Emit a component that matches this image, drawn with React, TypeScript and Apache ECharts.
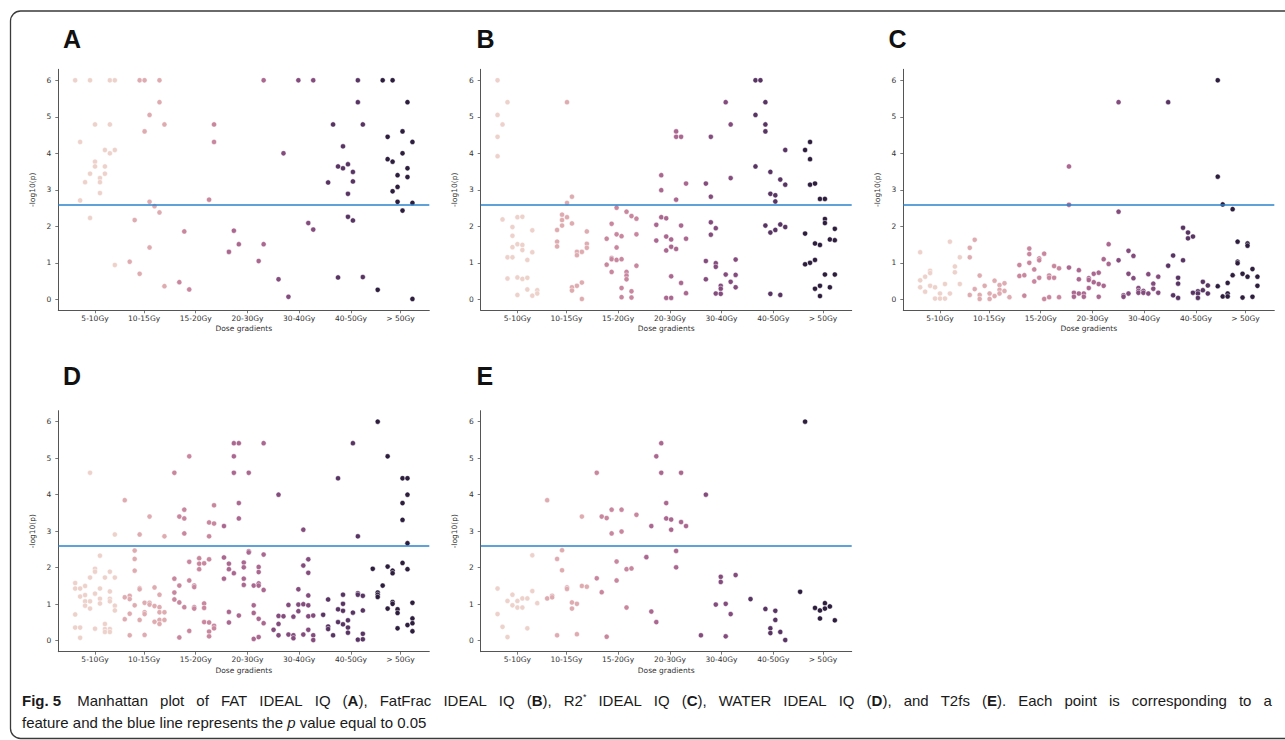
import React, { useEffect, useRef } from 'react';
import * as echarts from 'echarts';

// ---------- data ----------
const GROUPS = ['5-10Gy', '10-15Gy', '15-20Gy', '20-30Gy', '30-40Gy', '40-50Gy', '> 50Gy'];
const GROUP_TICKS = [0, 9.9, 20.3, 30.75, 41.15, 51.6, 61.6];
const Y_TICKS = [0, 1, 2, 3, 4, 5, 6];
const THRESHOLD = 2.6;
const GROUP_COLORS = ['#edd1cb', '#deabb0', '#c8879e', '#aa678f', '#834c7d', '#583463', '#2d1e3e'];
const PANEL_LETTERS = ['A', 'B', 'C', 'D', 'E'];

// [feature index, -log10(p)] per dose group
const fatIdealIQ = [
  [[-4, 6], [-1, 6], [3, 6], [4, 6], [-3, 4.31], [0, 4.79], [3, 4.79], [2, 4.09], [4, 4.09], [3, 4.0], [0, 3.77], [0, 3.64], [2, 3.64], [-1, 3.44], [2, 3.44], [1, 3.32], [1, 3.21], [-2, 3.21], [1, 2.91], [-3, 2.71], [-1, 2.23], [4, 0.94]],
  [[9, 6], [10, 6], [13, 6], [13, 5.4], [11, 5.05], [14, 4.79], [10, 4.6], [11, 2.67], [12, 2.55], [13, 2.38], [8, 2.17], [11, 1.42], [7, 1.03], [9, 0.7], [14, 0.36]],
  [[24, 4.79], [24, 4.31], [23, 2.73], [18, 1.86], [17, 0.47], [19, 0.27]],
  [[34, 6], [27, 1.3], [28, 1.88], [29, 1.51], [34, 1.51], [33, 1.05]],
  [[41, 6], [44, 6], [38, 4.0], [37, 0.55], [39, 0.07], [43, 2.09], [44, 1.91]],
  [[53, 6], [53, 5.4], [48, 4.79], [54, 4.79], [50, 4.19], [49, 3.64], [50, 3.59], [51, 3.7], [52, 3.49], [52, 3.23], [47, 3.2], [51, 2.89], [51, 2.26], [52, 2.16], [49, 0.6], [54, 0.61]],
  [[58, 6], [60, 6], [63, 5.4], [62, 4.6], [59, 4.45], [64, 4.31], [62, 4.0], [59, 3.84], [60, 3.77], [63, 3.59], [61, 3.4], [63, 3.35], [61, 3.08], [60, 2.96], [61, 2.67], [64, 2.64], [62, 2.43], [57, 0.26], [64, 0.01]],
];

const fatFracIdealIQ = [
  [[-4, 6.0], [-2, 5.4], [-4, 5.05], [-3, 4.79], [-4, 4.45], [-4, 3.92], [-3, 2.19], [0, 2.25], [1, 2.26], [-1, 1.98], [3, 1.89], [-1, 1.74], [0, 1.51], [1, 1.49], [-1, 1.43], [1, 1.35], [3, 1.29], [-2, 1.15], [-1, 1.15], [2, 1.08], [-2, 0.57], [0, 0.6], [1, 0.56], [2, 0.59], [2, 0.27], [4, 0.25], [4, 0.16], [3, 0.1], [0, 0.12]],
  [[10, 5.4], [11, 2.81], [10, 2.64], [9, 2.32], [10, 2.25], [9, 2.17], [9, 2.02], [11, 2.08], [8, 1.9], [8, 1.58], [8, 1.45], [14, 1.86], [14, 1.52], [14, 1.41], [12, 1.3], [13, 1.3], [12, 1.21], [13, 0.46], [12, 0.37], [11, 0.33], [11, 0.24], [13, 0.01]],
  [[20, 2.51], [22, 2.4], [23, 2.28], [24, 2.21], [19, 2.07], [18, 1.66], [20, 1.78], [21, 1.73], [24, 1.78], [20, 1.42], [19, 1.13], [19, 1.1], [20, 1.08], [21, 1.1], [18, 0.95], [24, 0.92], [19, 0.75], [22, 0.75], [22, 0.65], [22, 0.55], [21, 0.31], [23, 0.22], [21, 0.06], [23, 0.05]],
  [[32, 4.6], [32, 4.45], [33, 4.45], [29, 3.4], [29, 2.99], [34, 3.17], [32, 2.73], [29, 2.25], [30, 2.22], [28, 2.04], [33, 2.02], [30, 1.72], [31, 1.64], [28, 1.61], [34, 1.66], [31, 1.44], [30, 1.34], [32, 1.38], [31, 0.63], [33, 0.45], [34, 0.17], [30, 0.04], [31, 0.04]],
  [[42, 5.4], [43, 4.79], [39, 4.45], [43, 3.32], [38, 3.17], [39, 2.81], [39, 2.11], [40, 1.95], [39, 1.77], [38, 1.05], [44, 1.09], [40, 0.99], [40, 0.89], [42, 0.68], [44, 0.67], [38, 0.55], [41, 0.37], [41, 0.29], [43, 0.48], [44, 0.33], [40, 0.16], [41, 0.15]],
  [[48, 6], [49, 6], [50, 5.4], [48, 5.05], [50, 4.79], [50, 4.6], [54, 4.09], [48, 3.64], [51, 3.49], [53, 3.28], [54, 3.14], [51, 2.89], [52, 2.85], [52, 2.68], [50, 2.02], [51, 1.83], [52, 1.9], [53, 2.05], [54, 1.98], [51, 0.15], [53, 0.12]],
  [[59, 4.31], [58, 4.09], [59, 3.84], [59, 3.14], [60, 3.17], [61, 2.75], [62, 2.75], [62, 2.2], [62, 2.09], [64, 1.93], [58, 1.8], [60, 1.53], [61, 1.49], [63, 1.64], [64, 1.62], [58, 0.96], [59, 1.0], [60, 1.08], [62, 0.68], [64, 0.68], [60, 0.29], [61, 0.37], [63, 0.33], [61, 0.09]],
];

const r2IdealIQ = [
  [[-4, 1.29], [2, 1.58], [4, 1.15], [3, 0.9], [3, 0.74], [-2, 0.78], [-2, 0.72], [-3, 0.62], [-4, 0.52], [-4, 0.33], [-3, 0.21], [-2, 0.37], [-1, 0.33], [1, 0.42], [4, 0.42], [2, 0.16], [0, 0.16], [-1, 0.02], [0, 0.02], [1, 0.02]],
  [[7, 1.63], [6, 1.41], [6, 1.15], [8, 0.65], [11, 0.51], [9, 0.37], [12, 0.39], [13, 0.44], [7, 0.28], [6, 0.12], [8, 0.12], [8, 0.01], [10, 0.16], [10, 0.01], [11, 0.09], [12, 0.26], [12, 0.16], [13, 0.23], [14, 0.06]],
  [[16, 0.94], [16, 0.64], [17, 0.66], [17, 0.1], [18, 1.39], [18, 1.24], [18, 1.0], [19, 0.82], [19, 0.49], [20, 1.12], [20, 1.07], [20, 0.59], [21, 1.25], [21, 0.01], [22, 0.65], [22, 0.59], [22, 0.06], [23, 0.91], [23, 0.59], [24, 0.85], [24, 0.06]],
  [[26, 3.64], [26, 2.59], [26, 0.87], [27, 0.18], [27, 0.07], [28, 0.8], [28, 0.55], [28, 0.16], [29, 0.16], [29, 0.07], [30, 0.58], [30, 0.53], [30, 0.31], [31, 0.7], [31, 0.47], [32, 0.73], [32, 0.42], [32, 0.07], [33, 1.1], [33, 0.37], [34, 1.51], [34, 0.97]],
  [[36, 5.4], [36, 2.4], [36, 1.07], [37, 0.11], [37, 0.07], [38, 1.33], [38, 0.7], [38, 0.16], [39, 1.19], [39, 0.58], [40, 0.31], [40, 0.23], [40, 0.18], [41, 0.23], [41, 0.18], [42, 0.69], [42, 0.16], [43, 0.43], [43, 0.29], [44, 0.62], [44, 0.18]],
  [[46, 5.4], [46, 0.92], [47, 1.2], [47, 0.11], [48, 0.59], [48, 0.43], [48, 0.04], [49, 1.96], [49, 1.07], [50, 1.83], [50, 1.67], [51, 1.72], [51, 0.18], [52, 0.22], [52, 0.16], [52, 0.04], [53, 0.48], [53, 0.25], [54, 0.38], [54, 0.16]],
  [[56, 6.0], [56, 3.36], [56, 0.36], [57, 2.6], [57, 0.08], [58, 0.45], [58, 0.16], [58, 0.08], [59, 2.47], [59, 0.66], [60, 1.58], [60, 1.03], [60, 0.99], [61, 0.7], [61, 0.05], [62, 1.53], [62, 1.47], [62, 0.62], [63, 0.83], [63, 0.07], [64, 0.62], [64, 0.37]],
];

const waterIdealIQ = [
  [[-1, 4.6], [4, 2.91], [1, 2.33], [0, 1.97], [0, 1.89], [-1, 1.73], [3, 1.89], [2, 1.73], [4, 1.73], [-4, 1.58], [-4, 1.43], [-3, 1.43], [-2, 1.5], [1, 1.43], [3, 1.35], [-3, 1.21], [-2, 1.25], [0, 1.29], [-1, 1.08], [-2, 1.08], [-2, 0.96], [-1, 0.88], [1, 1.15], [1, 1.02], [3, 1.15], [3, 1.08], [4, 0.96], [4, 0.83], [-4, 0.72], [-4, 0.36], [-3, 0.36], [-3, 0.08], [0, 0.33], [2, 0.46], [2, 0.32], [2, 0.24], [3, 0.32], [3, 0.24]],
  [[6, 3.85], [6, 1.19], [6, 0.59], [7, 1.23], [7, 1.14], [7, 0.74], [7, 0.15], [8, 2.47], [8, 2.24], [8, 1.92], [8, 0.97], [9, 2.91], [9, 1.44], [9, 1.41], [9, 0.57], [10, 1.04], [10, 0.78], [10, 0.73], [10, 0.16], [11, 3.4], [11, 1.04], [11, 0.99], [12, 1.46], [12, 0.95], [12, 0.52], [13, 1.26], [13, 0.92], [13, 0.78], [13, 0.57], [13, 0.46], [14, 2.86], [14, 0.78], [14, 0.57]],
  [[16, 4.6], [16, 1.7], [16, 1.32], [16, 1.13], [17, 3.4], [17, 1.51], [17, 1.05], [17, 0.09], [18, 3.59], [18, 3.35], [18, 2.94], [18, 0.92], [19, 5.05], [19, 2.16], [19, 1.65], [19, 0.27], [20, 1.51], [20, 1.47], [20, 0.92], [20, 0.88], [21, 2.26], [21, 2.11], [21, 1.96], [22, 2.12], [22, 1.02], [22, 0.9], [22, 0.51], [23, 3.24], [23, 2.86], [23, 2.23], [23, 0.5], [23, 0.25], [23, 0.12], [24, 3.71], [24, 3.21], [24, 0.41], [24, 0.34]],
  [[26, 3.14], [26, 2.28], [26, 1.7], [27, 2.11], [27, 1.96], [27, 0.79], [27, 0.5], [28, 5.41], [28, 5.05], [28, 4.6], [28, 1.85], [29, 5.41], [29, 3.77], [29, 3.35], [29, 0.69], [30, 2.14], [30, 2.01], [30, 1.7], [30, 1.53], [31, 4.6], [31, 2.45], [31, 2.42], [32, 1.51], [32, 0.97], [32, 0.76], [32, 0.05], [33, 2.02], [33, 1.88], [33, 1.57], [33, 1.51], [33, 0.6], [33, 0.1], [34, 5.41], [34, 2.36], [34, 1.39], [34, 0.48]],
  [[36, 0.3], [37, 4.0], [37, 0.68], [37, 0.46], [37, 0.15], [38, 0.67], [39, 0.98], [39, 0.17], [40, 0.66], [40, 0.15], [40, 0.07], [41, 1.41], [41, 0.99], [41, 0.81], [42, 3.04], [42, 2.06], [42, 1.0], [42, 0.17], [43, 2.23], [43, 1.86], [43, 1.24], [43, 0.97], [43, 0.67], [43, 0.3], [44, 0.69], [44, 0.15], [44, 0.02]],
  [[46, 0.71], [47, 1.13], [47, 0.39], [47, 0.32], [48, 0.15], [49, 4.45], [49, 0.86], [49, 0.51], [50, 1.26], [50, 1.01], [50, 0.82], [50, 0.45], [51, 0.56], [51, 0.36], [51, 0.22], [52, 5.41], [52, 0.77], [53, 2.86], [53, 1.3], [53, 1.26], [53, 0.03], [54, 1.23], [54, 0.83], [54, 0.19], [54, 0.04]],
  [[56, 1.97], [57, 6.0], [57, 1.32], [57, 1.26], [57, 1.2], [58, 1.51], [59, 5.05], [59, 2.03], [59, 0.88], [60, 1.92], [60, 1.85], [60, 1.06], [60, 1.01], [61, 0.86], [61, 0.76], [61, 0.34], [62, 4.45], [62, 3.77], [62, 3.31], [62, 2.13], [63, 4.45], [63, 4.0], [63, 2.67], [63, 1.96], [63, 0.43], [64, 1.04], [64, 0.61], [64, 0.48], [64, 0.26]],
];

const t2fs = [
  [[-4, 1.43], [-4, 0.73], [-3, 0.38], [-2, 0.1], [-2, 1.09], [-1, 1.26], [-1, 0.97], [0, 1.09], [0, 0.91], [1, 1.16], [1, 0.91], [2, 1.16], [2, 0.34], [3, 2.34], [3, 1.36], [4, 1.03]],
  [[6, 3.85], [6, 1.16], [7, 1.23], [7, 1.19], [8, 2.24], [8, 0.15], [9, 2.48], [9, 1.93], [10, 1.46], [10, 1.42], [11, 1.05], [11, 0.88], [12, 1.01], [12, 0.18], [13, 3.4], [13, 1.5], [14, 1.48]],
  [[16, 4.6], [16, 1.71], [17, 3.4], [17, 1.33], [18, 3.36], [18, 0.11], [19, 3.59], [19, 2.94], [20, 2.17], [20, 1.65], [21, 3.59], [21, 2.99], [22, 1.96], [22, 0.91], [23, 1.98], [24, 3.45]],
  [[26, 2.29], [27, 3.14], [27, 0.8], [28, 5.05], [28, 0.51], [29, 5.41], [29, 4.6], [30, 3.77], [30, 3.35], [31, 3.32], [31, 3.04], [32, 2.46], [32, 2.01], [33, 4.6], [33, 3.25], [34, 3.14]],
  [[37, 0.15], [38, 4.0], [40, 0.99], [41, 1.75], [41, 1.61], [42, 1.01], [42, 0.12], [43, 0.73], [44, 1.8]],
  [[47, 1.14], [50, 0.87], [51, 0.34], [51, 0.21], [52, 0.82], [52, 0.57], [53, 0.24], [54, 0.02]],
  [[57, 1.34], [58, 6.0], [60, 0.9], [61, 0.83], [61, 0.61], [62, 1.03], [62, 0.88], [63, 0.94], [64, 0.56]],
];

const PANELS = [fatIdealIQ, fatFracIdealIQ, r2IdealIQ, waterIdealIQ, t2fs];

// caption words (line 1 is justified, line 2 left-aligned)
const CAPTION_LINE1 = [
  '{b|Fig. 5}', 'Manhattan', 'plot', 'of', 'FAT', 'IDEAL', 'IQ', '({b|A}),', 'FatFrac', 'IDEAL', 'IQ', '({b|B}),',
  'R2{sup|*}', 'IDEAL', 'IQ', '({b|C}),', 'WATER', 'IDEAL', 'IQ', '({b|D}),', 'and', 'T2fs', '({b|E}).', 'Each',
  'point', 'is', 'corresponding', 'to', 'a',
];
const CAPTION_LINE2 = 'feature and the blue line represents the {i|p} value equal to 0.05';

// ---------- layout ----------
const GRID_W = 371;
const GRID_H = 241;
const GRID_POS = [
  { left: 58.3, top: 69.3 },
  { left: 480.7, top: 69.3 },
  { left: 903.3, top: 69.3 },
  { left: 58.3, top: 410.7 },
  { left: 480.7, top: 410.7 },
];
const LETTER_POS = [
  { x: 63, y: 38.5 },
  { x: 476.5, y: 38.5 },
  { x: 888.5, y: 38.5 },
  { x: 63, y: 376 },
  { x: 476.5, y: 376 },
];

const TICK_FONT = 'DejaVu Sans';
const AXIS_COLOR = '#555';
const TEXT_COLOR = '#333';

function xLabel(v: number): string {
  let best = 0;
  let bd = Infinity;
  GROUP_TICKS.forEach((t, i) => {
    const d = Math.abs(t - v);
    if (d < bd) {
      bd = d;
      best = i;
    }
  });
  return bd < 0.5 ? GROUPS[best] : '';
}

function buildOption() {
  const grid = GRID_POS.map((p) => ({ left: p.left, top: p.top, width: GRID_W, height: GRID_H }));
  const xAxis = GRID_POS.map((_, i) => ({
    type: 'value',
    gridIndex: i,
    min: -7.4,
    max: 67.4,
    name: 'Dose gradients',
    nameLocation: 'middle',
    nameGap: 14.5,
    nameTextStyle: { fontSize: 7.5, color: TEXT_COLOR, fontFamily: TICK_FONT },
    axisLine: { show: true, onZero: false, lineStyle: { color: AXIS_COLOR, width: 1 } },
    axisTick: { show: true, length: 3, customValues: GROUP_TICKS, lineStyle: { color: AXIS_COLOR, width: 0.8 } },
    axisLabel: {
      show: true,
      customValues: GROUP_TICKS,
      formatter: (v: number) => xLabel(v),
      fontSize: 7.5,
      margin: 4,
      color: TEXT_COLOR,
      fontFamily: TICK_FONT,
    },
    splitLine: { show: false },
  }));
  const yAxis = GRID_POS.map((_, i) => ({
    type: 'value',
    gridIndex: i,
    min: -0.3,
    max: 6.3,
    name: '-log10(p)',
    nameLocation: 'middle',
    nameGap: 22,
    nameTextStyle: { fontSize: 7.5, color: TEXT_COLOR, fontFamily: TICK_FONT },
    axisLine: { show: true, onZero: false, lineStyle: { color: AXIS_COLOR, width: 1 } },
    axisTick: { show: true, length: 3, customValues: Y_TICKS, lineStyle: { color: AXIS_COLOR, width: 0.8 } },
    axisLabel: {
      show: true,
      customValues: Y_TICKS,
      formatter: (v: number) => String(Math.round(v)),
      fontSize: 7.5,
      margin: 7,
      color: TEXT_COLOR,
      fontFamily: TICK_FONT,
    },
    splitLine: { show: false },
  }));

  const series: any[] = [];
  PANELS.forEach((panel, pi) => {
    panel.forEach((pts, gi) => {
      const s: any = {
        type: 'scatter',
        name: GROUPS[gi],
        xAxisIndex: pi,
        yAxisIndex: pi,
        data: pts,
        symbol: 'circle',
        symbolSize: 5.2,
        itemStyle: { color: GROUP_COLORS[gi], borderColor: '#ffffff', borderWidth: 0.5, opacity: 1 },
        emphasis: { disabled: true },
        z: 2,
      };
      if (gi === panel.length - 1) {
        s.markLine = {
          silent: true,
          symbol: ['none', 'none'],
          label: { show: false },
          lineStyle: { color: '#2a82cc', width: 1.6, type: 'solid' },
          data: [{ yAxis: THRESHOLD }],
        };
      }
      series.push(s);
    });
  });

  const capStyleBase = { fontSize: 15, fontFamily: 'Liberation Sans', fill: '#1a1a1a' };
  // justified first line: word gaps are widened tokens
  const line1Text = CAPTION_LINE1.map((w, i) => (i === 0 ? w : (i === 1 ? '{g2| }' : '{g| }') + w)).join('');
  const graphic: any[] = [
    {
      type: 'rect',
      shape: { x: 10.5, y: 11, width: 1300, height: 727.5, r: 10 },
      style: { fill: 'none', stroke: '#3a3a3a', lineWidth: 1.3 },
      silent: true,
    },
    ...PANEL_LETTERS.map((l, i) => ({
      type: 'text',
      x: LETTER_POS[i].x,
      y: LETTER_POS[i].y,
      style: {
        text: l,
        fontSize: 25,
        fontWeight: 'bold',
        fontFamily: 'Liberation Sans',
        fill: '#111',
        verticalAlign: 'middle',
        align: 'left',
      },
    })),
    {
      type: 'text',
      x: 22,
      y: 700,
      style: {
        ...capStyleBase,
        verticalAlign: 'middle',
        text: line1Text,
        rich: {
          b: { ...capStyleBase, fontWeight: 'bold' },
          sup: { ...capStyleBase, fontSize: 9, verticalAlign: 'top' },
          g: { ...capStyleBase, width: 12.05 },
          g2: { ...capStyleBase, width: 16 },
        },
      },
    },
    {
      type: 'text',
      x: 22,
      y: 722,
      style: {
        ...capStyleBase,
        verticalAlign: 'middle',
        text: CAPTION_LINE2,
        rich: {
          i: { ...capStyleBase, fontStyle: 'italic' },
        },
      },
    },
  ];

  return {
    animation: false,
    backgroundColor: '#ffffff',
    grid,
    xAxis,
    yAxis,
    series,
    graphic,
  };
}

export default function App() {
  const ref = useRef<HTMLDivElement>(null);
  useEffect(() => {
    document.body.style.margin = '0';
    if (!ref.current) return;
    const chart = echarts.init(ref.current, null, { renderer: 'svg' });
    chart.setOption(buildOption() as any);
    return () => chart.dispose();
  }, []);
  return <div ref={ref} style={{ width: 1285, height: 740 }} />;
}
